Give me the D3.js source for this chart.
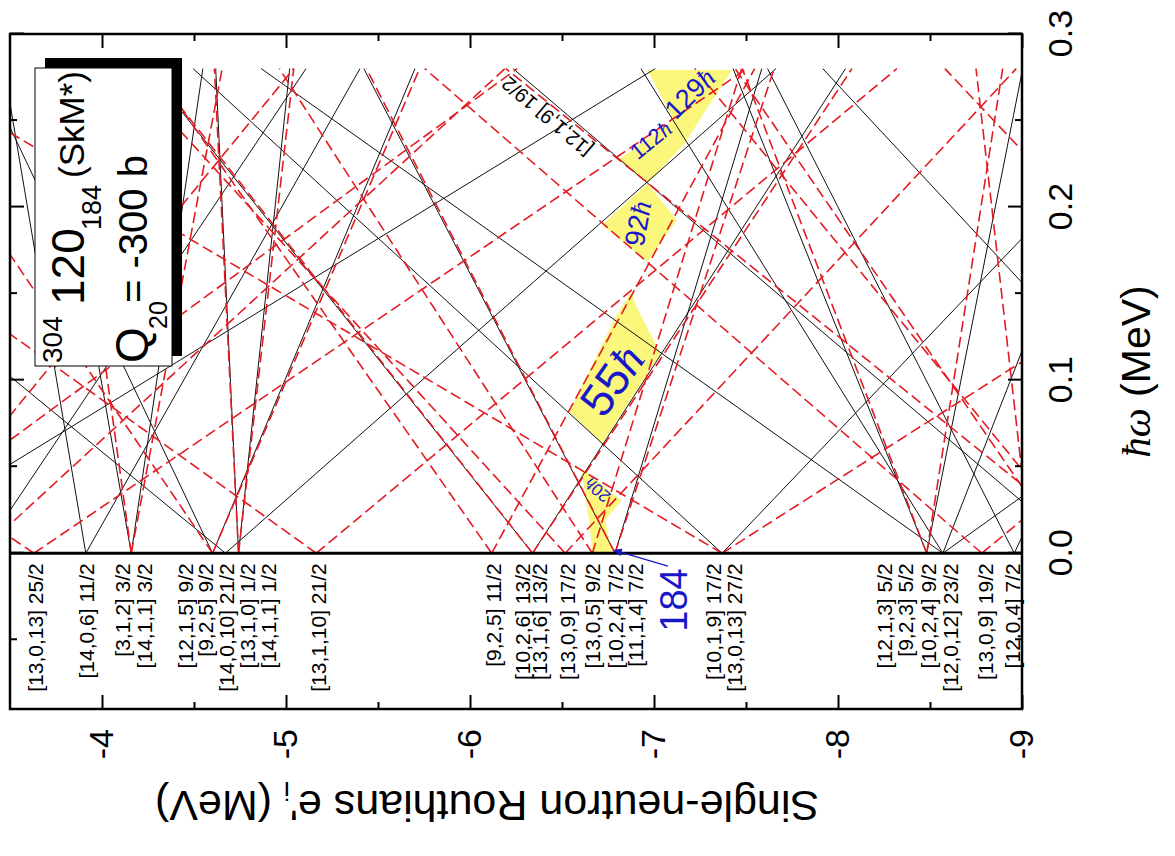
<!DOCTYPE html>
<html>
<head>
<meta charset="utf-8">
<script src="https://cdn.jsdelivr.net/npm/d3@7"></script>
<style>
  body { margin: 0; background: #fff; }
  svg { display: block; font-family: "Liberation Sans", Arial, sans-serif; }
</style>
</head>
<body>
<svg id="chart" width="1175" height="856"></svg>
<script>
// Rotational frequency range and Routhian energy range (MeV)
const omegaDomain = [-0.09, 0.3];
const energyDomain = [-3.5, -9];
const omegaEnd = 0.28;

// Positive-parity Routhians (solid): energy at hw = 0 and at hw = 0.28 (MeV)
const solidRouthians = [
  [-3.912, -3.468], [-3.912, -5.402],   // [14,0,6] 11/2
  [-4.159, -3.701], [-4.159, -4.548],   // [14,1,1] 3/2
  [-4.601, -3.348], [-4.601, -5.701],   // [12,1,5] 9/2
  [-4.671, -1.464], [-4.671, -7.663],   // [14,0,10] 21/2
  [-4.742, -4.618], [-4.742, -5.020],   // [14,1,1] 1/2
  [-6.340, -4.248], [-6.340, -8.041],   // [10,2,6] 13/2
  [-6.788, -5.423], [-6.788, -7.586],   // [10,2,4] 7/2
  [-7.370, -4.495], [-7.370, -9.879],   // [10,1,9] 17/2
  [-8.482, -7.430], [-8.482, -9.004],   // [12,1,3] 5/2
  [-8.570, -6.929], [-8.570, -9.600],   // [10,2,4] 9/2
  [-8.570, -4.865], [-8.570, -12.240],  // [12,0,12] 23/2
  [-8.958, -7.617], [-8.958, -10.193],  // [12,0,4] 7/2
  [-9.329, -6.234],                     // [12,1,9] 19/2
  [-2.713, -7.007], [-3.344, -5.109],   // from above the window
  [-10.370, -7.917]                     // from below the window
];

// Negative-parity Routhians (dashed): energy at hw = 0 and at hw = 0.28 (MeV)
const dashedRouthians = [
  [-3.630, 0.244], [-3.630, -7.505],    // [13,0,13] 25/2
  [-4.159, -3.796], [-4.159, -4.653],   // [3,1,2] 3/2
  [-4.601, -2.815], [-4.601, -5.726],   // [9,2,5] 9/2
  [-4.742, -4.611], [-4.742, -5.042],   // [13,1,0] 1/2
  [-5.165, -1.485], [-5.165, -8.320],   // [13,1,10] 21/2
  [-6.118, -4.279], [-6.118, -7.547],   // [9,2,5] 11/2
  [-6.340, -4.262], [-6.340, -8.076],   // [13,1,6] 13/2
  [-6.517, -4.117], [-6.517, -8.969],   // [13,0,9] 17/2
  [-6.665, -4.964], [-6.665, -7.476],   // [13,0,5] 9/2
  [-6.788, -5.437], [-6.788, -7.653],   // [11,1,4] 7/2
  [-7.370, -2.910], [-7.370, -11.495],  // [13,0,13] 27/2
  [-8.482, -7.480], [-8.482, -8.895],   // [9,2,3] 5/2
  [-8.782, -5.754], [-8.782, -11.958],  // [13,0,9] 19/2
  [-3.330, -6.190], [-2.660, -6.256], [-2.889, -5.042],   // from above the window
  [-9.463, -6.195], [-9.248, -7.441], [-11.061, -8.581], [-9.371, -7.222], [-9.050, -8.750] // from below
];

// Orbital labels [N,nz,Lambda] Omega and the energy they sit at
const orbitalNames = [
  "[13,0,13] 25/2", "[14,0,6] 11/2", "[3,1,2] 3/2", "[14,1,1] 3/2",
  "[12,1,5] 9/2", "[9,2,5] 9/2", "[14,0,10] 21/2", "[13,1,0] 1/2",
  "[14,1,1] 1/2", "[13,1,10] 21/2",
  "[9,2,5] 11/2", "[10,2,6] 13/2", "[13,1,6] 13/2", "[13,0,9] 17/2",
  "[13,0,5] 9/2", "[10,2,4] 7/2", "[11,1,4] 7/2",
  "[10,1,9] 17/2", "[13,0,13] 27/2",
  "[12,1,3] 5/2", "[9,2,3] 5/2", "[10,2,4] 9/2", "[12,0,12] 23/2",
  "[13,0,9] 19/2", "[12,0,4] 7/2"
];
const orbitalEnergies = [
  -3.636, -3.918, -4.109, -4.228,
  -4.451, -4.560, -4.674, -4.788,
  -4.902, -5.174,
  -6.125, -6.283, -6.380, -6.527,
  -6.663, -6.793, -6.897,
  -7.321, -7.435,
  -8.255, -8.364, -8.489, -8.609,
  -8.799, -8.946
];

// Shell-gap regions at N = 184: outlines as [hw, e'] pairs
const gapNames = ["20", "55", "92", "112", "129"];
const gapOutlines = [
  [[0.0490, -6.605], [0.0306, -6.823], [0.0191, -6.735], [0.0004, -6.771], [0.0004, -6.665], [0.0191, -6.647]],
  [[0.0817, -6.541], [0.1357, -6.788], [0.1511, -6.876], [0.1424, -6.905], [0.1154, -7.035], [0.0634, -6.718]],
  [[0.1896, -6.718], [0.2137, -6.965], [0.1925, -7.123], [0.1684, -6.965]],
  [[0.2272, -6.806], [0.2503, -7.106], [0.2368, -7.166], [0.2137, -6.965]],
  [[0.2792, -6.965], [0.2792, -7.423], [0.2368, -7.166], [0.2503, -7.106]]
];
const gapLabelAt = [[0.0364, -6.693], [0.1000, -6.771], [0.1905, -6.912], [0.2388, -6.982], [0.2657, -7.194]];

// Tagged orbital along its line, and the N = 184 marker
const taggedOrbital = "[12,1,9] 19/2";
const taggedAt = [0.2522, -6.418];
const magicNumber = "184";
const magicLabelAt = [-0.027, -7.103];
const magicArrow = [[-0.0075, -7.076], [0.0017, -6.785]];

const omegaTicks = [0, 0.1, 0.2, 0.3];
const omegaMinorTicks = [-0.05, 0.05, 0.15, 0.25];
const energyTicks = [-4, -5, -6, -7, -8, -9];
const energyMinorTicks = [-4.5, -5.5, -6.5, -7.5, -8.5];

// ---------------------------------------------------------------
const style = {
  black: "#111",
  red: "#e31b23",
  yellow: "#fbf77c",
  blue: "#1818c8",
  gapLabel: { "20": [17, -49], "55": [46, 35], "92": [28, 10], "112": [22, 51], "129": [27, 45] }
};

const svg = d3.select("#chart");
// The figure is laid out upright (856 wide x 1175 tall) and turned a quarter turn.
const g = svg.append("g").attr("transform", "translate(0,856) rotate(-90)");

const x = d3.scaleLinear().domain(omegaDomain).range([147, 822]);
const y = d3.scaleLinear().domain(energyDomain).range([10, 1022]);

const defs = g.append("defs");
defs.append("clipPath").attr("id", "plotClip").append("rect")
  .attr("x", x(0)).attr("y", y(energyDomain[0]))
  .attr("width", x(omegaDomain[1]) - x(0))
  .attr("height", y(energyDomain[1]) - y(energyDomain[0]));
defs.append("marker").attr("id", "arrowHead")
  .attr("viewBox", "0 0 10 10").attr("refX", 9).attr("refY", 5)
  .attr("markerWidth", 10).attr("markerHeight", 8).attr("markerUnits", "userSpaceOnUse")
  .attr("orient", "auto")
  .append("path").attr("d", "M0,0 L10,5 L0,10 Z").attr("fill", style.blue);

const plot = g.append("g").attr("clip-path", "url(#plotClip)");

// shaded gaps
plot.selectAll("path.gap").data(gapOutlines).join("path")
  .attr("class", "gap")
  .attr("d", d => d3.line().x(p => x(p[0])).y(p => y(p[1]))(d) + "Z")
  .attr("fill", style.yellow).attr("stroke", "none");

// Routhians
plot.selectAll("line.pos").data(solidRouthians).join("line")
  .attr("class", "pos")
  .attr("x1", x(0)).attr("y1", d => y(d[0]))
  .attr("x2", x(omegaEnd)).attr("y2", d => y(d[1]))
  .attr("stroke", style.black).attr("stroke-width", 1);
plot.selectAll("line.neg").data(dashedRouthians).join("line")
  .attr("class", "neg")
  .attr("x1", x(0)).attr("y1", d => y(d[0]))
  .attr("x2", x(omegaEnd)).attr("y2", d => y(d[1]))
  .attr("stroke", style.red).attr("stroke-width", 1.6)
  .attr("stroke-dasharray", "11,5");

// gap labels
g.selectAll("text.gapLabel").data(gapNames).join("text")
  .attr("class", "gapLabel")
  .attr("transform", (d, i) => `translate(${x(gapLabelAt[i][0])},${y(gapLabelAt[i][1])}) rotate(${style.gapLabel[d][1]})`)
  .attr("text-anchor", "middle").attr("dy", "0.35em")
  .attr("font-size", d => style.gapLabel[d][0]).attr("fill", style.blue)
  .each(function (d) {
    const t = d3.select(this);
    t.append("tspan").text(d);
    t.append("tspan").attr("font-family", "Liberation Serif, serif").attr("font-style", "italic").text("ħ");
  });

// tagged orbital
g.append("text")
  .attr("transform", `translate(${x(taggedAt[0])},${y(taggedAt[1])}) rotate(-49.7)`)
  .attr("text-anchor", "middle").attr("dy", "0.35em")
  .attr("font-size", 20).attr("fill", "#000")
  .text(taggedOrbital);

// frame, zero line
g.append("rect")
  .attr("x", x(omegaDomain[0])).attr("y", y(energyDomain[0]))
  .attr("width", x(omegaDomain[1]) - x(omegaDomain[0]))
  .attr("height", y(energyDomain[1]) - y(energyDomain[0]))
  .attr("fill", "none").attr("stroke", "#000").attr("stroke-width", 2.5);
g.append("line")
  .attr("x1", x(0)).attr("x2", x(0))
  .attr("y1", y(energyDomain[0])).attr("y2", y(energyDomain[1]))
  .attr("stroke", "#000").attr("stroke-width", 3);

// axes
function styleAxis(sel) {
  sel.select(".domain").remove();
  sel.selectAll(".tick line").attr("stroke", "#000").attr("stroke-width", 2);
  sel.selectAll(".tick text").attr("fill", "#000");
}
const axB = g.append("g").attr("transform", `translate(0,${y(-9)})`)
  .call(d3.axisBottom(x).tickValues(omegaTicks).tickSize(-14).tickPadding(26).tickFormat(d3.format(".1f")));
axB.selectAll("text").attr("font-size", 34).attr("font-family", "Liberation Sans, Arial, sans-serif");
styleAxis(axB);
styleAxis(g.append("g").attr("transform", `translate(0,${y(-9)})`)
  .call(d3.axisBottom(x).tickValues(omegaMinorTicks).tickSize(-7).tickFormat("")));
styleAxis(g.append("g").attr("transform", `translate(0,${y(-3.5)})`)
  .call(d3.axisTop(x).tickValues(omegaTicks).tickSize(-14).tickFormat("")));
styleAxis(g.append("g").attr("transform", `translate(0,${y(-3.5)})`)
  .call(d3.axisTop(x).tickValues(omegaMinorTicks).tickSize(-7).tickFormat("")));

const axL = g.append("g").attr("transform", `translate(${x(omegaDomain[0])},0)`)
  .call(d3.axisLeft(y).tickValues(energyTicks).tickSize(-14).tickPadding(20).tickFormat(d => String(d)));
axL.selectAll("text").attr("font-size", 34).attr("font-family", "Liberation Sans, Arial, sans-serif");
styleAxis(axL);
styleAxis(g.append("g").attr("transform", `translate(${x(omegaDomain[0])},0)`)
  .call(d3.axisLeft(y).tickValues(energyMinorTicks).tickSize(-7).tickFormat("")));
styleAxis(g.append("g").attr("transform", `translate(${x(omegaDomain[1])},0)`)
  .call(d3.axisRight(y).tickValues(energyTicks).tickSize(-14).tickFormat("")));
styleAxis(g.append("g").attr("transform", `translate(${x(omegaDomain[1])},0)`)
  .call(d3.axisRight(y).tickValues(energyMinorTicks).tickSize(-7).tickFormat("")));

// axis titles
const xt = g.append("text")
  .attr("x", (x(omegaDomain[0]) + x(omegaDomain[1])) / 2).attr("y", 1150)
  .attr("text-anchor", "middle").attr("font-size", 41);
xt.append("tspan").attr("font-family", "Liberation Serif, serif").attr("font-style", "italic").text("ħω");
xt.append("tspan").text(" (MeV)");

const yt = g.append("text")
  .attr("transform", "translate(65,487) rotate(-90)")
  .attr("text-anchor", "middle").attr("font-size", 43);
yt.append("tspan").text("Single-neutron Routhians e'");
yt.append("tspan").attr("font-size", 26).attr("dy", 9).text("i");
yt.append("tspan").attr("dy", -9).text(" (MeV)");

// orbital labels at hw < 0
g.selectAll("text.orb").data(orbitalNames).join("text")
  .attr("class", "orb")
  .attr("x", x(-0.0058)).attr("y", (d, i) => y(orbitalEnergies[i]))
  .attr("dy", "0.36em").attr("text-anchor", "end")
  .attr("font-size", 21).attr("fill", "#000")
  .text(d => d);

// N = 184 marker
g.append("line")
  .attr("x1", x(magicArrow[0][0])).attr("y1", y(magicArrow[0][1]))
  .attr("x2", x(magicArrow[1][0])).attr("y2", y(magicArrow[1][1]))
  .attr("stroke", style.blue).attr("stroke-width", 1.3)
  .attr("marker-end", "url(#arrowHead)");
g.append("text")
  .attr("x", x(magicLabelAt[0])).attr("y", y(magicLabelAt[1]))
  .attr("dy", "0.36em").attr("text-anchor", "middle")
  .attr("font-size", 38).attr("fill", style.blue)
  .text(magicNumber);

// nucleus / force / deformation box
const box = g.append("g");
box.append("rect").attr("x", 500).attr("y", 45).attr("width", 298).attr("height", 137).attr("fill", "#000");
box.append("rect").attr("x", 490).attr("y", 35).attr("width", 298).attr("height", 137)
  .attr("fill", "#fff").attr("stroke", "#000").attr("stroke-width", 1);
const boxText = [
  ["304", 493, 62, 28], ["120", 551, 84, 46], ["184", 626, 101, 27], ["(SkM*)", 678, 84, 35],
  ["Q", 493, 148, 46], ["20", 527, 167, 25], ["= -300 b", 553, 147, 40]
];
box.selectAll("text").data(boxText).join("text")
  .attr("x", d => d[1]).attr("y", d => d[2]).attr("font-size", d => d[3])
  .attr("fill", "#000").text(d => d[0]);
</script>
</body>
</html>
